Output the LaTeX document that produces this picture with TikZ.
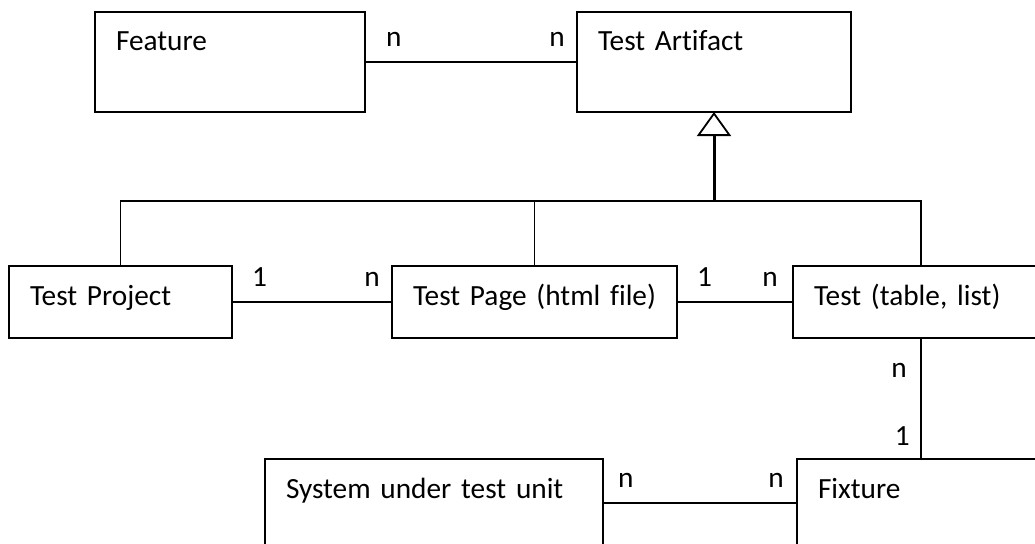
\documentclass[tikz,border=0pt]{standalone}
\usepackage{fontspec}
\setmainfont{Carlito}[Ligatures=NoCommon]
\usetikzlibrary{positioning,arrows.meta}
\newcommand{\umlfont}{\fontsize{29.3}{35}\selectfont}
\tikzset{
umlbox/.style 2 args={
  draw,
  line width=1.8pt,
  anchor=north west,
  outer sep=0pt,
  inner xsep=21pt,
  inner ysep=0pt,
  text width=#1,
  text height=39pt,
  text depth=#2,
  align=left,
  font=\umlfont
  }
}
\tikzset{
  mult/.style={font=\umlfont, inner sep=0pt},
  conn/.style={line width=1.8pt},
  gen/.style={line width=3pt,
    -{Triangle[open, length=24pt, width=34pt, line width=1.8pt]}}
}

\begin{document}
\begin{tikzpicture}[x=1pt,y=-1pt]
\useasboundingbox (0,0) rectangle (1035,543);

\node[umlbox={228pt}{61pt}] (feat) at (95,12) {Feature};
\node[umlbox={232pt}{61pt}] (art) at (577,12) {Test Artifact};
\node[umlbox={181pt}{33pt}] (proj) at (9,266) {Test Project};
\node[umlbox={243pt}{33pt}] (page) at (392,266) {Test Page (html file)};
\node[umlbox={214pt}{33pt}] (test) at (793,266) {Test (table, list)};
\node[umlbox={296pt}{49pt}] (sut) at (265,459) {System under test unit};
\node[umlbox={206pt}{49pt}] (fix) at (797,459) {Fixture};

\draw[conn] (feat) -- (art);
\draw[conn] (proj) -- (page);
\draw[conn] (page) -- (test);
\draw[conn] (test) -- (fix);
\draw[conn] (sut) -- (fix);

\begin{scope}
\coordinate (gen-art) at ([yshift=-89pt]art.south);
\draw[conn] (proj.north) |- (test.north |- gen-art) -- (test.north);
\draw[conn] (page.north) -- (page.north |- gen-art);
\draw[gen] (gen-art) -- (art.south);
\end{scope}

\begin{scope}
\node[mult,anchor=base west] (m-feat) at ([xshift=21pt,yshift=16pt]feat.east) {n};
\node[mult,anchor=base east] (m-art) at ([xshift=-12pt,yshift=16pt]art.west) {n};
\node[mult,anchor=base west] (m-proj) at ([xshift=20pt,yshift=16pt]proj.east) {1};
\node[mult,anchor=base east] (m-page1) at ([xshift=-12pt,yshift=16pt]page.west) {n};
\node[mult,anchor=base west] (m-page2) at ([xshift=20pt,yshift=16pt]page.east) {1};
\node[mult,anchor=base east] (m-test1) at ([xshift=-15pt,yshift=16pt]test.west) {n};
\node[mult,anchor=base east] (m-test2) at ([xshift=-14pt,yshift=-39pt]test.south) {n};
\node[mult,anchor=base east] (m-fix1) at ([xshift=-11pt,yshift=14pt]fix.north) {1};
\node[mult,anchor=base east] (m-fix2) at ([xshift=-13pt,yshift=16pt]fix.west) {n};
\node[mult,anchor=base west] (m-sut) at ([xshift=15pt,yshift=16pt]sut.east) {n};
\end{scope}

\end{tikzpicture}
\end{document}
